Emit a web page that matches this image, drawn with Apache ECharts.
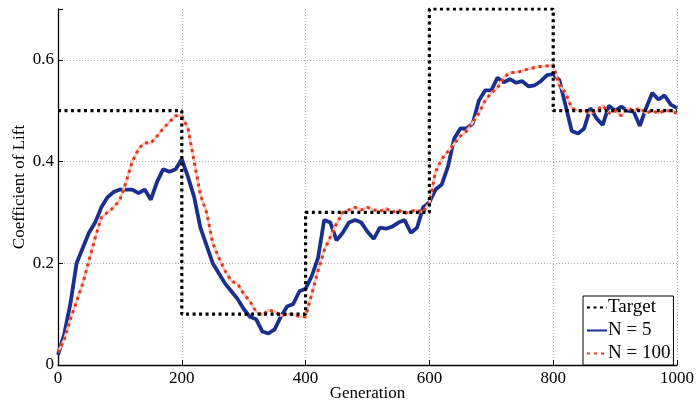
<!DOCTYPE html>
<html>
<head>
<meta charset="utf-8">
<script src="https://cdn.jsdelivr.net/npm/echarts@6/dist/echarts.min.js"></script>
<style>
html,body{margin:0;padding:0;background:#fff;}
#chart{width:696px;height:404px;}
</style>
</head>
<body>
<div id="chart"></div>
<script>
// Generations sampled every 10
var generations = [];
for (var g = 0; g <= 1000; g += 10) generations.push(g);

var targetGens = [0, 200, 400, 600, 800, 1000];
var targetVals = [0.5, 0.1, 0.3, 0.7, 0.5, 0.5];

var n5 = [
  0.02, 0.06, 0.12, 0.20, 0.23, 0.26, 0.28, 0.31, 0.33, 0.34,
  0.345, 0.345, 0.345, 0.338, 0.345, 0.325, 0.36, 0.385, 0.38, 0.385,
  0.405, 0.37, 0.33, 0.27, 0.235, 0.20, 0.18, 0.16, 0.145, 0.13,
  0.11, 0.095, 0.09, 0.066, 0.062, 0.07, 0.095, 0.115, 0.12, 0.145,
  0.15, 0.175, 0.21, 0.285, 0.28, 0.245, 0.26, 0.28, 0.285, 0.28,
  0.262, 0.248, 0.27, 0.268, 0.272, 0.28, 0.285, 0.26, 0.27, 0.31,
  0.32, 0.345, 0.355, 0.39, 0.445, 0.465, 0.465, 0.475, 0.52, 0.54,
  0.54, 0.565, 0.556, 0.562, 0.555, 0.558, 0.548, 0.55, 0.558, 0.57,
  0.572, 0.56, 0.51, 0.46, 0.455, 0.465, 0.505, 0.485, 0.472, 0.51,
  0.50, 0.508, 0.50, 0.498, 0.47, 0.505, 0.535, 0.522, 0.53, 0.512,
  0.505
];

var n100 = [
  0.025, 0.05, 0.09, 0.125, 0.16, 0.205, 0.25, 0.29, 0.30, 0.31,
  0.325, 0.36, 0.40, 0.425, 0.437, 0.436, 0.45, 0.465, 0.478, 0.49,
  0.49, 0.465, 0.40, 0.335, 0.30, 0.24, 0.21, 0.185, 0.165, 0.16,
  0.14, 0.125, 0.105, 0.098, 0.108, 0.105, 0.097, 0.10, 0.10, 0.095,
  0.095, 0.14, 0.185, 0.225, 0.252, 0.278, 0.30, 0.305, 0.31, 0.305,
  0.31, 0.305, 0.302, 0.308, 0.30, 0.305, 0.298, 0.302, 0.305, 0.30,
  0.32, 0.38, 0.405, 0.42, 0.435, 0.45, 0.46, 0.477, 0.495, 0.52,
  0.535, 0.545, 0.565, 0.575, 0.575, 0.578, 0.582, 0.585, 0.587, 0.588,
  0.59, 0.55, 0.535, 0.505, 0.50, 0.50, 0.495, 0.50, 0.51, 0.495,
  0.50, 0.49, 0.505, 0.50, 0.505, 0.495, 0.50, 0.495, 0.50, 0.50,
  0.495
];

var xTicks = [0, 200, 400, 600, 800, 1000];
var yTicks = [0, 0.2, 0.4, 0.6];

function zip(xs, ys) { return xs.map(function (x, i) { return [x, ys[i]]; }); }

var FONT = '"Liberation Serif", "DejaVu Serif", serif';
var chart = echarts.init(document.getElementById('chart'), null, {renderer: 'canvas'});
chart.setOption({
  animation: false,
  backgroundColor: '#fff',
  grid: {left: 58, right: 19, top: 9, bottom: 39, containLabel: false, outerBoundsMode: 'none'},
  xAxis: {
    type: 'value', min: 0, max: 1000, interval: 200,
    name: 'Generation', nameLocation: 'middle', nameGap: 20, nameMoveOverlap: false,
    nameTextStyle: {fontFamily: FONT, fontSize: 17, color: '#000'},
    axisLine: {lineStyle: {color: '#000', width: 1.3}},
    axisTick: {inside: true, length: 5, lineStyle: {color: '#000'}},
    axisLabel: {fontFamily: FONT, fontSize: 17, color: '#000', margin: 5,
      formatter: function (v) { return xTicks.indexOf(v) >= 0 ? String(v) : ''; }},
    splitLine: {show: true, lineStyle: {color: '#aaa', type: [1, 2], width: 1}}
  },
  yAxis: {
    type: 'value', min: 0, max: 0.7, interval: 0.2,
    name: 'Coefficient of Lift', nameLocation: 'middle', nameGap: 30, nameMoveOverlap: false,
    nameTextStyle: {fontFamily: FONT, fontSize: 17, color: '#000'},
    axisLine: {show: true, lineStyle: {color: '#000', width: 1.3}},
    axisTick: {show: true, inside: true, length: 5, lineStyle: {color: '#000'}},
    axisLabel: {fontFamily: FONT, fontSize: 17, color: '#000', margin: 4,
      formatter: function (v) {
        for (var i = 0; i < yTicks.length; i++) if (Math.abs(yTicks[i] - v) < 1e-6) return v === 0 ? '0' : v.toFixed(1);
        return '';
      }},
    splitLine: {show: true, lineStyle: {color: ['#aaa', '#aaa', '#aaa', '#aaa', 'rgba(0,0,0,0)'], type: [1, 2], width: 1}}
  },
  legend: {
    data: ['Target', 'N = 5', 'N = 100'],
    orient: 'vertical', left: 583, top: 296,
    backgroundColor: '#fff', borderColor: '#000', borderWidth: 1,
    padding: [2, 3, 2, 3], itemGap: 4, itemWidth: 20, itemHeight: 16,
    itemStyle: {opacity: 0},
    textStyle: {fontFamily: FONT, fontSize: 19, color: '#000', padding: [0, 0, 0, -4]}
  },
  series: [
    {
      name: 'N = 5', type: 'line', data: zip(generations, n5), showSymbol: false, symbol: 'none', z: 2,
      lineStyle: {color: '#1b2f8e', width: 3.8}, itemStyle: {color: '#1b2f8e'}
    },
    {
      name: 'N100bg', type: 'line', data: zip(generations, n100), showSymbol: false, symbol: 'none', z: 3,
      lineStyle: {color: '#f6c4b8', width: 2.5}, silent: true
    },
    {
      name: 'N = 100', type: 'line', data: zip(generations, n100), showSymbol: false, symbol: 'none', z: 4,
      lineStyle: {color: '#e2381a', width: 3, type: [3, 4]}, itemStyle: {color: '#e2381a'}
    },
    {
      name: 'Target', type: 'line', step: 'end', data: zip(targetGens, targetVals), showSymbol: false, symbol: 'none', z: 5,
      lineStyle: {color: '#000', width: 3.2, type: [3, 3.5]}, itemStyle: {color: '#000'}
    }
  ]
});
</script>
</body>
</html>
